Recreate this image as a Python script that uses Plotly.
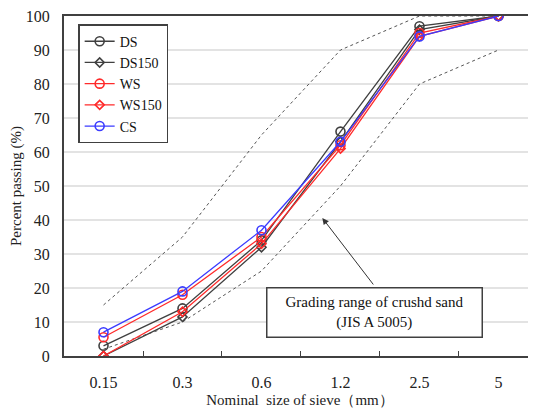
import plotly.graph_objects as go

sizes = ["0.15", "0.3", "0.6", "1.2", "2.5", "5"]
ds = [3, 14, 34, 66, 97, 100]
ds150 = [0, 11.5, 32, 63, 96, 100]
ws = [5.5, 18, 35, 62, 95, 100]
ws150 = [0, 13, 33, 61, 94, 100]
cs = [7, 19, 37, 63, 94, 100]
upper = [15, 35, 65, 90, 100, 100]
lower = [2, 10, 25, 50, 80, 90]

FONT = "Liberation Serif"
fig = go.Figure()

for lim in (upper, lower):
    fig.add_trace(go.Scatter(x=sizes, y=lim, mode="lines", showlegend=False,
                             line=dict(color="#555555", width=1, dash="3px,3px"),
                             hoverinfo="skip"))

series = [
    ("DS", ds, "#404040", "circle-open", 9),
    ("DS150", ds150, "#404040", "diamond-open", 7),
    ("WS", ws, "#ff2a2a", "circle-open", 9),
    ("WS150", ws150, "#ff2a2a", "diamond-open", 7),
    ("CS", cs, "#3b3bff", "circle-open", 9),
]
for name, vals, col, sym, sz in series:
    fig.add_trace(go.Scatter(
        x=sizes, y=vals, name=name, mode="lines+markers",
        line=dict(color=col, width=1.3),
        marker=dict(symbol=sym, size=sz, color=col, line=dict(color=col, width=1.6)),
    ))

fig.add_annotation(x=3.43, y=12.9, xref="x", yref="y",
                   text="Grading range of crushd sand<br>(JIS A 5005)",
                   showarrow=False, font=dict(family=FONT, size=15, color="#111111"),
                   bgcolor="white", bordercolor="#404040", borderwidth=1.5,
                   width=212, height=46, borderpad=1, align="center")
fig.add_annotation(x=2.77, y=40.6, ax=3.43, ay=20.6, xref="x", yref="y",
                   axref="x", ayref="y", text="", showarrow=True,
                   arrowhead=2, arrowsize=1.3, arrowwidth=1, arrowcolor="#333333")

fig.update_layout(
    width=528, height=404,
    margin=dict(l=56, r=0, t=8, b=56),
    plot_bgcolor="white", paper_bgcolor="white",
    font=dict(family=FONT, size=16, color="#222222"),
    legend=dict(x=0.03, y=0.976, xanchor="left", yanchor="top",
                bordercolor="#404040", borderwidth=1.5, bgcolor="white",
                font=dict(family=FONT, size=14, color="#111111"),
                itemwidth=30, tracegroupgap=0),
    showlegend=True,
)
fig.update_xaxes(
    type="category", range=[-0.5, 5.475], automargin=False,
    showline=True, linecolor="#404040", linewidth=2, mirror=True,
    ticks="inside", tickson="boundaries", ticklen=5, tickcolor="#404040",
    showgrid=False, tickfont=dict(family=FONT, size=16, color="#222222"),
    ticklabelstandoff=11, ticklabeloverflow="allow",
    title=dict(text="Nominal  size of sieve（mm）", font=dict(family=FONT, size=15, color="#222222"), standoff=4),
)
fig.update_yaxes(
    range=[0, 100], dtick=10, automargin=False,
    showline=True, linecolor="#404040", linewidth=2,
    showgrid=True, gridcolor="#e3e3e3", gridwidth=1.5, zeroline=False,
    ticks="", tickfont=dict(family=FONT, size=16, color="#222222"),
    ticklabelstandoff=9, ticklabeloverflow="allow",
    title=dict(text="Percent passing (%)", font=dict(family=FONT, size=15, color="#222222"), standoff=2),
)

fig.write_html("out.html")
